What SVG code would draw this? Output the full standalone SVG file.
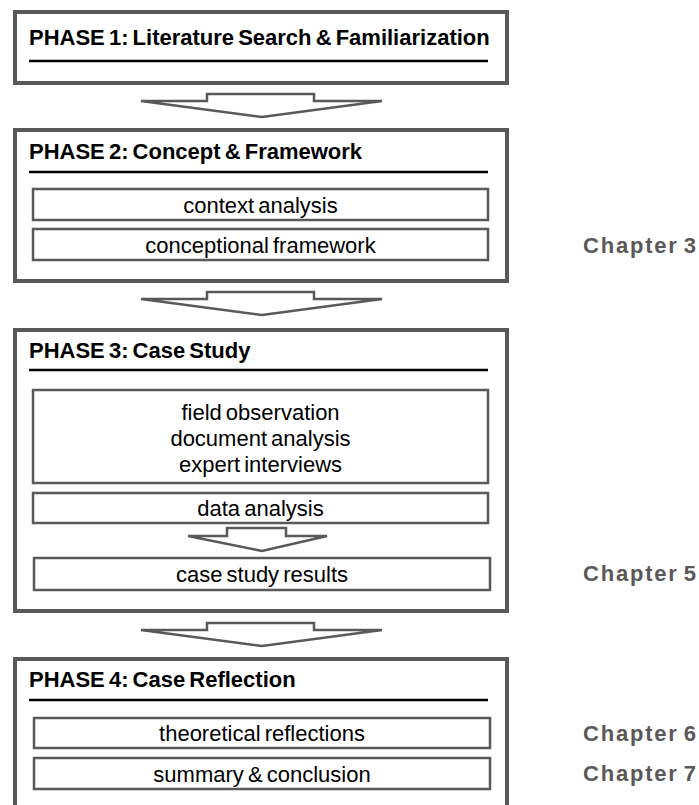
<svg xmlns="http://www.w3.org/2000/svg" width="699" height="805" viewBox="0 0 699 805">
<style>
.outer{fill:#fff;stroke:#595959;stroke-width:4}
.inner{fill:#fff;stroke:#595959;stroke-width:2.5}
.rule{stroke:#000;stroke-width:2.5}
.arrow{fill:#fff;stroke:#595959;stroke-width:2.5;stroke-linejoin:miter}
.hdr{font-family:"Liberation Sans",Arial,sans-serif;font-weight:bold;font-size:22px;fill:#000;word-spacing:-2px}
.txt{font-family:"Liberation Sans",Arial,sans-serif;font-size:22px;fill:#000;text-anchor:middle;word-spacing:-2px}
.ch{font-family:"Liberation Sans",Arial,sans-serif;font-weight:bold;font-size:22px;fill:#595959;word-spacing:-3px;letter-spacing:1.8px}
</style>
<rect width="699" height="805" fill="#fff"/>
<g id="connectors">
<polygon class="arrow" points="207,94 314,94 314,101 382,101 262,117 141,101 207,101"/>
<polygon class="arrow" points="207,292 314,292 314,299 382,299 262,315 141,299 207,299"/>
<polygon class="arrow" points="207,623 314,623 314,630 382,630 262,646 141,630 207,630"/>
</g>
<g id="phase1">
<rect class="outer" x="15" y="12" width="492" height="71"/>
<text class="hdr" x="29" y="45">PHASE 1: Literature Search &amp; Familiarization</text>
<line class="rule" x1="29" y1="61" x2="488" y2="61"/>
</g>
<g id="phase2">
<rect class="outer" x="15" y="130" width="492" height="151"/>
<text class="hdr" x="29" y="159">PHASE 2: Concept &amp; Framework</text>
<line class="rule" x1="29" y1="172" x2="488" y2="172"/>
<g id="context-analysis">
<rect class="inner" x="33" y="189" width="455" height="31"/>
<text class="txt" x="260.5" y="212.5">context analysis</text>
</g>
<g id="conceptional-framework">
<rect class="inner" x="33" y="229" width="455" height="31"/>
<text class="txt" x="260.5" y="252.5">conceptional framework</text>
</g>
</g>
<g id="phase3">
<rect class="outer" x="15" y="330" width="492" height="281"/>
<text class="hdr" x="29" y="358">PHASE 3: Case Study</text>
<line class="rule" x1="29" y1="370" x2="488" y2="370"/>
<g id="methods">
<rect class="inner" x="33" y="390" width="455" height="93"/>
<text class="txt" x="260.5" y="420">field observation</text>
<text class="txt" x="260.5" y="446">document analysis</text>
<text class="txt" x="260.5" y="472">expert interviews</text>
</g>
<g id="data-analysis">
<rect class="inner" x="33" y="493" width="455" height="30"/>
<text class="txt" x="260.5" y="516">data analysis</text>
</g>
<polygon class="arrow" points="227,528 286,528 286,536 327,536 262,551 188,536 227,536"/>
<g id="case-study-results">
<rect class="inner" x="34" y="558" width="456" height="32"/>
<text class="txt" x="262" y="581.5">case study results</text>
</g>
</g>
<g id="phase4">
<rect class="outer" x="15" y="659" width="492" height="160"/>
<text class="hdr" x="29" y="687">PHASE 4: Case Reflection</text>
<line class="rule" x1="29" y1="700" x2="488" y2="700"/>
<g id="theoretical-reflections">
<rect class="inner" x="34" y="718" width="456" height="30"/>
<text class="txt" x="262" y="741">theoretical reflections</text>
</g>
<g id="summary-conclusion">
<rect class="inner" x="34" y="758" width="456" height="31"/>
<text class="txt" x="262" y="781.5">summary &amp; conclusion</text>
</g>
</g>
<g id="chapters">
<text class="ch" x="583" y="253">Chapter 3</text>
<text class="ch" x="583" y="581">Chapter 5</text>
<text class="ch" x="583" y="741">Chapter 6</text>
<text class="ch" x="583" y="781">Chapter 7</text>
</g>
</svg>
